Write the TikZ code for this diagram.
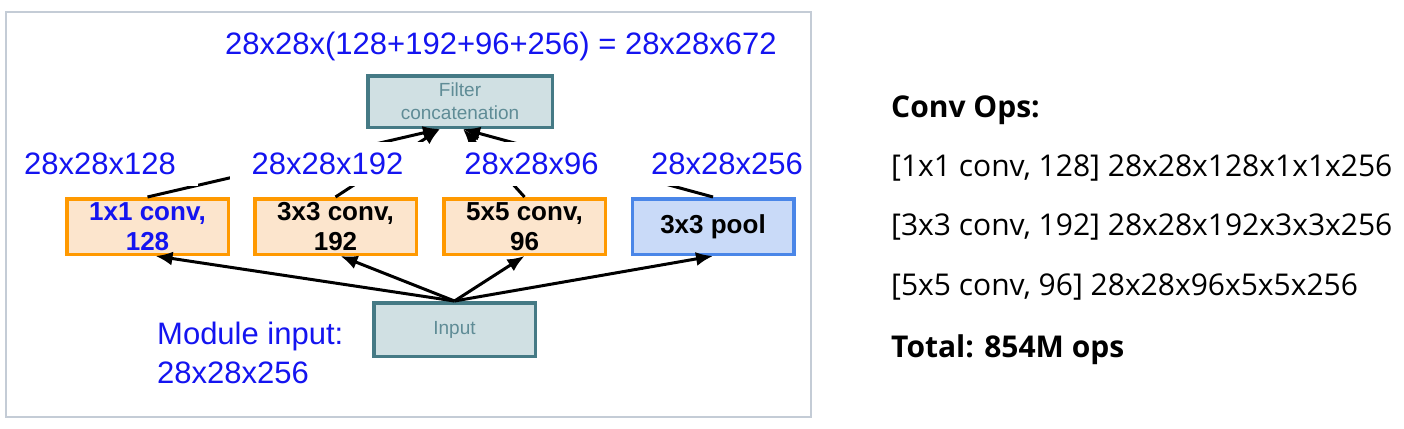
\documentclass[tikz,border=0pt]{standalone}
\usepackage{fontspec}
\setmainfont{Liberation Sans}
\newfontfamily\opsfont{Open Sans}
\usetikzlibrary{arrows.meta,positioning}
\definecolor{labelblue}{RGB}{20,20,240}
\definecolor{convline}{RGB}{255,153,0}
\definecolor{convfill}{RGB}{252,229,205}
\definecolor{poolline}{RGB}{74,134,232}
\definecolor{poolfill}{RGB}{201,218,248}
\definecolor{tealline}{RGB}{69,122,133}
\definecolor{tealfill}{RGB}{208,224,227}
\definecolor{tealtext}{RGB}{95,140,150}
\definecolor{framegray}{RGB}{196,204,214}

\begin{document}
\begin{tikzpicture}[x=1pt,y=-1pt,>={Latex[length=17pt,width=14pt]},
  convbox/.style={draw=convline,fill=convfill,line width=3.5pt,minimum width=161.5pt,minimum height=55.5pt,inner sep=0pt,align=center,font=\fontsize{26}{30}\selectfont\bfseries},
  poolbox/.style={convbox,draw=poolline,fill=poolfill},
  tealbox/.style={draw=tealline,fill=tealfill,line width=3.5pt,inner sep=0pt,align=center,text=tealtext,font=\fontsize{19}{23}\selectfont},
  dimlabel/.style={fill=white,text=labelblue,inner xsep=22pt,inner ysep=0pt,minimum height=44pt,font=\fontsize{31}{38}\selectfont},
  opsline/.style={anchor=base west,inner sep=0pt,font=\opsfont\fontsize{30}{36}\selectfont},
  link/.style={line width=3pt}]
\useasboundingbox (0,0) rectangle (1404,428);
\fill[white] (0,0) rectangle (1404,428);

\node[tealbox,minimum width=184.5pt,minimum height=51.5pt] (concat) at (460,101.5) {Filter\\concatenation};
\node[convbox,text=labelblue] (conv1) at (147.5,226.5) {1x1 conv,\\128};
\node[convbox] (conv3) at (335.5,226.5) {3x3 conv,\\192};
\node[convbox] (conv5) at (524.5,226.5) {5x5 conv,\\96};
\node[poolbox] (pool) at (713,226.5) {3x3 pool};
\node[tealbox,minimum width=161.5pt,minimum height=53.5pt] (input) at (454.5,329.5) {Input};

\draw[->,link] (input.north) -- ([xshift=8pt]conv1.south);
\draw[->,link] (input.north) -- ([xshift=5pt]conv3.south);
\draw[->,link] (input.north) -- (conv5.south);
\draw[->,link] (input.north) -- (pool.south);

\draw[->,link] (conv1.north) -- ([xshift=-20pt]concat.south);
\draw[->,link] (conv3.north) -- ([xshift=-20pt]concat.south);
\draw[->,link] (conv5.north) -- ([xshift=3pt]concat.south);
\draw[->,link] (pool.north) -- ([xshift=3pt]concat.south);

\node[dimlabel] (dim128) at (100,164) {28x28x128};
\node[dimlabel] (dim192) at (327.5,164) {28x28x192};
\node[dimlabel,inner xsep=30pt] (dim96) at (531.5,164) {28x28x96};
\node[dimlabel] (dim256) at (727,164) {28x28x256};

\node[text=labelblue,inner sep=0pt,font=\fontsize{31}{38}\selectfont] (total) at (501,46) {28x28x(128+192+96+256) = 28x28x672};
\node[text=labelblue,inner sep=0pt,anchor=west,align=left,font=\fontsize{31}{39}\selectfont] (moduleinput) at (157,352.5) {Module input:\\28x28x256};

\draw[framegray,line width=2pt] (6,12) rectangle (811,417);

\node[opsline,font=\opsfont\fontsize{30}{36}\selectfont\bfseries] (opstitle) at (891,117) {Conv Ops:};
\node[opsline] (ops1) at (891,176) {[1x1 conv, 128] 28x28x128x1x1x256};
\node[opsline] (ops2) at (891,235) {[3x3 conv, 192] 28x28x192x3x3x256};
\node[opsline] (ops3) at (891,295) {[5x5 conv, 96] 28x28x96x5x5x256};
\node[opsline,font=\opsfont\fontsize{30}{36}\selectfont\bfseries] (opstotal) at (891,357) {Total: 854M ops};
\end{tikzpicture}
\end{document}
